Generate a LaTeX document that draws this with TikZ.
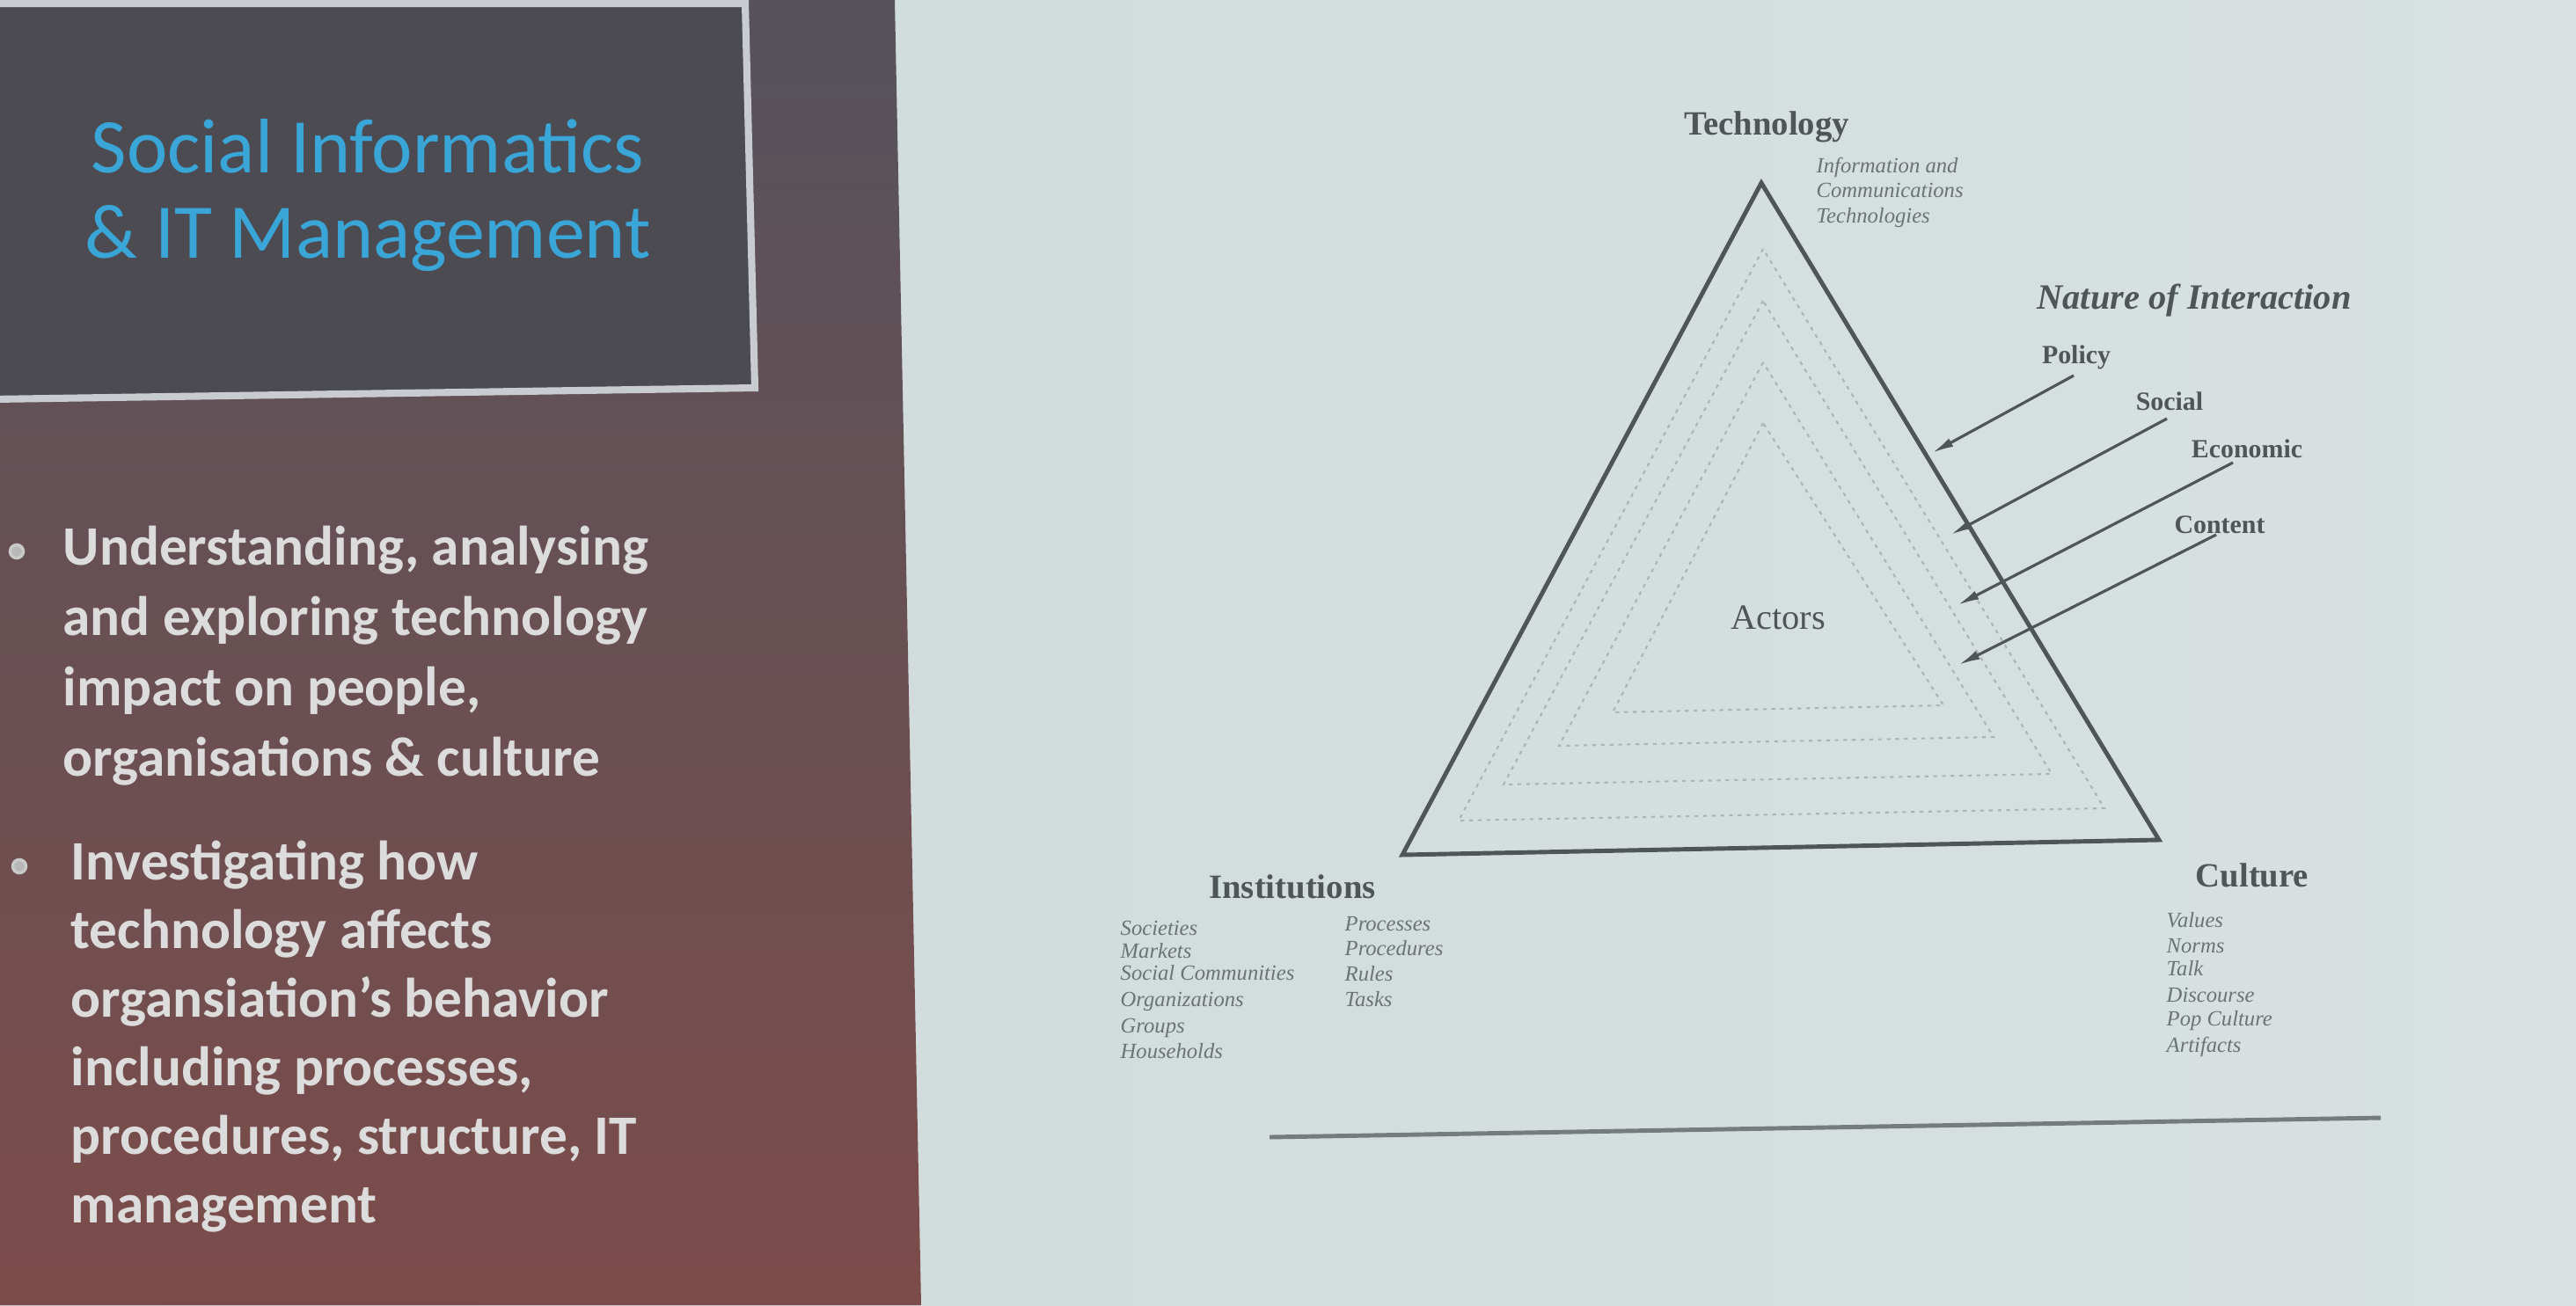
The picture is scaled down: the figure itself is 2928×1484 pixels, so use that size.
\documentclass[tikz,border=0pt]{standalone}
\usepackage{fontspec}
\setmainfont{Liberation Serif}
\newfontfamily\slidefont{Carlito}
\usetikzlibrary{arrows.meta}

\definecolor{screenl}{RGB}{206,217,218}
\definecolor{screenr}{RGB}{216,225,224}
\definecolor{paneltop}{RGB}{86,83,92}
\definecolor{panelmid}{RGB}{98,70,82}
\definecolor{panelbot}{RGB}{124,76,74}
\definecolor{titlebox}{RGB}{76,75,82}
\definecolor{boxedge}{RGB}{200,204,208}
\definecolor{titlecyan}{RGB}{58,165,215}
\definecolor{bullettext}{RGB}{220,220,220}
\definecolor{ink}{RGB}{80,86,88}
\definecolor{softink}{RGB}{108,115,117}
\definecolor{dotink}{RGB}{172,181,182}
\definecolor{ruleink}{RGB}{118,124,126}

\begin{document}
\begin{tikzpicture}[x=0.01cm, y=-0.01cm,
  outerline/.style={draw=ink, line width=1.4pt, line join=miter},
  ringline/.style={draw=dotink, line width=0.6pt, dash pattern=on 1.2pt off 1.6pt},
  pushline/.style={draw=ink, line width=0.9pt, -{Latex[length=7pt,width=3pt]}},
  titletext/.style={font=\slidefont\fontsize{25}{28}\selectfont, text=titlecyan, inner sep=0pt, anchor=base},
  bullettxt/.style={font=\slidefont\bfseries\fontsize{18}{22}\selectfont, text=bullettext, inner sep=0pt, anchor=base west},
  bulletdot/.style={circle, draw=bullettext!80!gray, line width=1pt, fill=bullettext!60!gray, inner sep=0pt, minimum size=0.15cm},
  headlabel/.style={font=\bfseries\fontsize{11}{13}\selectfont, text=ink, inner sep=0pt, anchor=base},
  naturelabel/.style={font=\bfseries\itshape\fontsize{11.5}{13}\selectfont, text=ink, inner sep=0pt, anchor=base},
  forcelabel/.style={font=\bfseries\fontsize{8.5}{10}\selectfont, text=ink, inner sep=0pt, anchor=base},
  centrelabel/.style={font=\fontsize{11.5}{13}\selectfont, text=ink, inner sep=0pt, anchor=base},
  itemlabel/.style={font=\itshape\fontsize{7}{8}\selectfont, text=softink, inner sep=0pt, anchor=base west}
]
\useasboundingbox (0,0) rectangle (2928,1484);

% projection screen and the dark slide panel on the left
\shade[left color=screenl, right color=screenr] (0,0) rectangle (2928,1484);
\shade[top color=paneltop, middle color=panelmid, bottom color=panelbot]
  (0,0) -- (1017,0) -- (1047,1484) -- (0,1484) -- cycle;

% title box
\draw[draw=boxedge, line width=2.3pt, fill=titlebox]
  (-10,4) -- (847,4) -- (858,441) -- (-10,454) -- cycle;
\node[titletext] (title1) at (418,196) {Social Informatics};
\node[titletext] (title2) at (418,293) {\& IT Management};

% bullet points
\node[bulletdot] (dot1) at (19,627) {};
\node[bullettxt] (b1l1) at (71,642) {Understanding, analysing};
\node[bullettxt] (b1l2) at (71,722) {and exploring technology};
\node[bullettxt] (b1l3) at (71,802) {impact on people,};
\node[bullettxt] (b1l4) at (71,882) {organisations \& culture};

\node[bulletdot] (dot2) at (22,985) {};
\node[bullettxt] (b2l1) at (80,1000) {Investigating how};
\node[bullettxt] (b2l2) at (80,1078) {technology affects};
\node[bullettxt] (b2l3) at (80,1156) {organsiation’s behavior};
\node[bullettxt] (b2l4) at (80,1234) {including processes,};
\node[bullettxt] (b2l5) at (80,1312) {procedures, structure, IT};
\node[bullettxt] (b2l6) at (80,1390) {management};

% triangle corners
\coordinate (T) at (2002,208);
\coordinate (I) at (1594,972);
\coordinate (C) at (2454,955);

% nested dotted rings
\coordinate (r1t) at (2004,283); \coordinate (r1l) at (1658,933); \coordinate (r1r) at (2392,919);
\coordinate (r2t) at (2004,342); \coordinate (r2l) at (1709,892); \coordinate (r2r) at (2332,880);
\coordinate (r3t) at (2004,412); \coordinate (r3l) at (1772,848); \coordinate (r3r) at (2266,838);
\coordinate (r4t) at (2004,481); \coordinate (r4l) at (1833,810); \coordinate (r4r) at (2209,802);
\draw[ringline] (r1t) -- (r1l) -- (r1r) -- cycle;
\draw[ringline] (r2t) -- (r2l) -- (r2r) -- cycle;
\draw[ringline] (r3t) -- (r3l) -- (r3r) -- cycle;
\draw[ringline] (r4t) -- (r4l) -- (r4r) -- cycle;

\draw[outerline] (T) -- (I) -- (C) -- cycle;

% corner labels
\node[headlabel] (tech) at (2008,153) {Technology};
\node[itemlabel] (tech1) at (2064,196) {Information and};
\node[itemlabel] (tech2) at (2064,224) {Communications};
\node[itemlabel] (tech3) at (2064,253) {Technologies};

\node[headlabel] (inst) at (1469,1021) {Institutions};
\node[itemlabel] (inst1) at (1273,1063) {Societies};
\node[itemlabel] (inst2) at (1273,1089) {Markets};
\node[itemlabel] (inst3) at (1273,1114) {Social Communities};
\node[itemlabel] (inst4) at (1273,1144) {Organizations};
\node[itemlabel] (inst5) at (1273,1174) {Groups};
\node[itemlabel] (inst6) at (1273,1203) {Households};
\node[itemlabel] (inst7) at (1528,1058) {Processes};
\node[itemlabel] (inst8) at (1528,1086) {Procedures};
\node[itemlabel] (inst9) at (1528,1115) {Rules};
\node[itemlabel] (inst10) at (1528,1144) {Tasks};

\node[headlabel] (cult) at (2560,1008) {Culture};
\node[itemlabel] (cult1) at (2462,1054) {Values};
\node[itemlabel] (cult2) at (2462,1083) {Norms};
\node[itemlabel] (cult3) at (2462,1109) {Talk};
\node[itemlabel] (cult4) at (2462,1139) {Discourse};
\node[itemlabel] (cult5) at (2462,1166) {Pop Culture};
\node[itemlabel] (cult6) at (2462,1196) {Artifacts};

\node[centrelabel] (actors) at (2021,715) {Actors};

% nature of interaction
\node[naturelabel] (nature) at (2494,351) {Nature of Interaction};
\node[forcelabel] (policy) at (2360,413) {Policy};
\node[forcelabel] (social) at (2466,466) {Social};
\node[forcelabel] (economic) at (2554,520) {Economic};
\node[forcelabel] (content) at (2523,606) {Content};

\coordinate (policy-s) at (2357,427);   \coordinate (policy-t) at (2196,515);
\coordinate (social-s) at (2463,476);   \coordinate (social-t) at (2217,608);
\coordinate (economic-s) at (2538,526); \coordinate (economic-t) at (2225,688);
\coordinate (content-s) at (2519,608);  \coordinate (content-t) at (2226,756);
\draw[pushline] (policy-s) -- (policy-t);
\draw[pushline] (social-s) -- (social-t);
\draw[pushline] (economic-s) -- (economic-t);
\draw[pushline] (content-s) -- (content-t);

% rule under the figure
\coordinate (rule-l) at (1443,1293);
\coordinate (rule-r) at (2706,1271);
\draw[draw=ruleink, line width=1.4pt] (rule-l) -- (rule-r);
\end{tikzpicture}
\end{document}
